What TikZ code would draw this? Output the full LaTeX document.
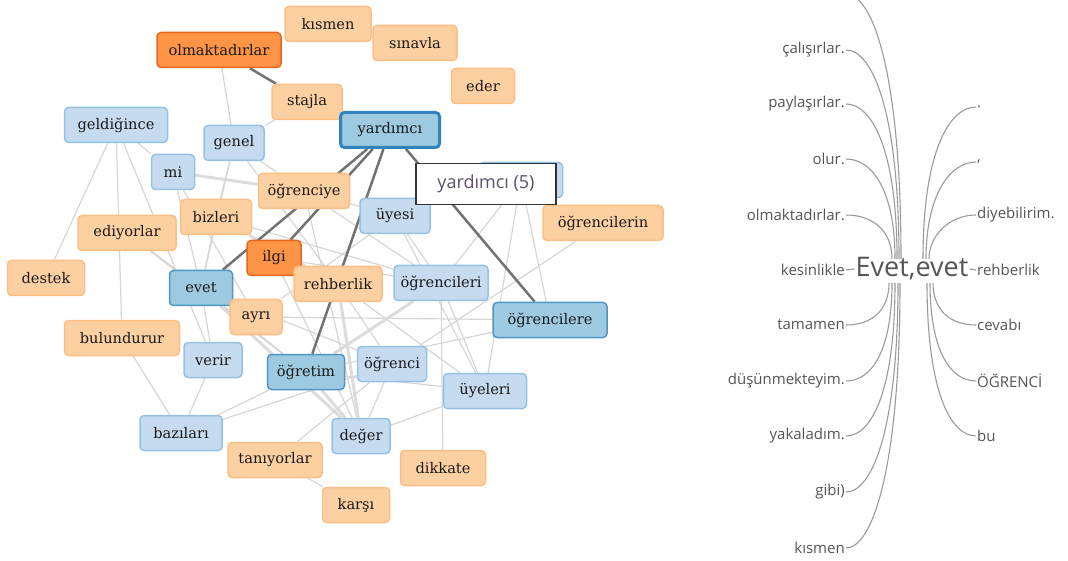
\documentclass[tikz,border=0pt]{standalone}
\usepackage{fontspec}
\usepackage{tikz}
\usetikzlibrary{backgrounds}

\newfontfamily\netfont{DejaVu Serif}
\newfontfamily\treefont{Open Sans}

\definecolor{lorange}{HTML}{FDD0A2}
\definecolor{lorangeline}{HTML}{FDBE85}
\definecolor{dorange}{HTML}{FD9446}
\definecolor{dorangeline}{HTML}{E6661E}
\definecolor{lblue}{HTML}{C6DBEF}
\definecolor{lblueline}{HTML}{93C2E4}
\definecolor{mblue}{HTML}{9ECAE1}
\definecolor{mblueline}{HTML}{4E96C8}
\definecolor{hubline}{HTML}{3182BD}
\definecolor{tiecol}{HTML}{D6D6D6}
\definecolor{strongcol}{HTML}{727272}
\definecolor{treecol}{HTML}{9A9A9A}
\definecolor{treetext}{HTML}{555555}
\definecolor{tipcol}{HTML}{5E4F6A}

\tikzset{
  word/.style={rounded corners=4pt, line width=1.5pt, minimum height=35pt,
    inner xsep=2pt, text=black!90, font=\netfont\fontsize{14.6}{16}\selectfont},
  lo/.style={word, fill=lorange, draw=lorangeline},
  do/.style={word, fill=dorange, draw=dorangeline},
  lb/.style={word, fill=lblue, draw=lblueline},
  mb/.style={word, fill=mblue, draw=mblueline},
  hub/.style={word, fill=mblue, draw=hubline, line width=3pt},
  tie/.style={draw=tiecol, line width=1.2pt},
  wide tie/.style={draw=tiecol!85, line width=3pt},
  strong/.style={draw=strongcol, line width=2.5pt},
  tip/.style={draw=black!80, line width=1.5pt, fill=white, minimum width=140pt,
    minimum height=41pt, text=tipcol, font=\treefont\fontsize{18}{20}\selectfont},
  leaf/.style={inner sep=1pt, text=treetext, font=\treefont\fontsize{15}{17}\selectfont},
  branch/.style={draw=treecol, line width=1.1pt}
}

\begin{document}
\begin{tikzpicture}[x=1pt, y=-1pt]

  \useasboundingbox (0,0) rectangle (1068,561);

  % network of words
  \node[lo, minimum width=86pt] (kismen) at (328,24) {kısmen};
  \node[lo, minimum width=84pt] (sinavla) at (415,43) {sınavla};
  \node[do, minimum width=124pt] (olmak) at (219,50) {olmaktadırlar};
  \node[lo, minimum width=63pt] (eder) at (483,86) {eder};
  \node[lo, minimum width=70pt] (stajla) at (307,102) {stajla};
  \node[lb, minimum width=103pt] (geldigince) at (116,125) {geldiğince};
  \node[hub, minimum width=99pt] (yardimci) at (390,130) {yardımcı};
  \node[lb, minimum width=60pt] (genel) at (234,143) {genel};
  \node[lb, minimum width=43pt] (mi) at (173,172) {mi};
  \node[lb, minimum width=83pt] (gizli) at (521,180) {};
  \node[lo, minimum width=91pt] (ogrenciye) at (304,191) {öğrenciye};
  \node[lo, minimum width=71pt] (bizleri) at (216,217) {bizleri};
  \node[lb, minimum width=70pt] (uyesi) at (395,216) {üyesi};
  \node[lo, minimum width=120pt] (ogrencilerin) at (603,223) {öğrencilerin};
  \node[lo, minimum width=98pt] (ediyorlar) at (127,233) {ediyorlar};
  \node[do, minimum width=54pt] (ilgi) at (274,258) {ilgi};
  \node[lo, minimum width=77pt] (destek) at (46,278) {destek};
  \node[mb, minimum width=63pt] (evet) at (201,288) {evet};
  \node[lo, minimum width=88pt] (rehberlik) at (338,284) {rehberlik};
  \node[lb, minimum width=94pt] (ogrencileri) at (441,283) {öğrencileri};
  \node[lo, minimum width=52pt] (ayri) at (256,317) {ayrı};
  \node[mb, minimum width=114pt] (ogrencilere) at (550,320) {öğrencilere};
  \node[lo, minimum width=115pt] (bulundurur) at (122,338) {bulundurur};
  \node[lb, minimum width=58pt] (verir) at (213,360) {verir};
  \node[mb, minimum width=77pt] (ogretim) at (306,372) {öğretim};
  \node[lb, minimum width=69pt] (ogrenci) at (392,364) {öğrenci};
  \node[lb, minimum width=83pt] (uyeleri) at (485,391) {üyeleri};
  \node[lb, minimum width=82pt] (bazilari) at (181,433) {bazıları};
  \node[lb, minimum width=58pt] (deger) at (361,436) {değer};
  \node[lo, minimum width=94pt] (taniyorlar) at (275,460) {tanıyorlar};
  \node[lo, minimum width=85pt] (dikkate) at (443,468) {dikkate};
  \node[lo, minimum width=67pt] (karsi) at (356,505) {karşı};

  \begin{scope}[on background layer]
    \draw[tie] (geldigince) -- (destek);
    \draw[tie] (geldigince) -- (bulundurur);
    \draw[tie] (geldigince) -- (verir);
    \draw[tie] (geldigince) -- (mi);
    \draw[tie] (olmak) -- (genel);
    \draw[tie] (stajla) -- (genel);
    \draw[wide tie] (mi) -- (ogrenciye);
    \draw[tie] (mi) -- (evet);
    \draw[tie] (mi) -- (ayri);
    \draw[tie] (genel) -- (bizleri);
    \draw[tie] (genel) -- (evet);
    \draw[tie] (genel) -- (rehberlik);
    \draw[tie] (genel) -- (ogrenciye);
    \draw[tie] (bizleri) -- (evet);
    \draw[tie] (bizleri) -- (ogrencileri);
    \draw[wide tie] (bizleri) -- (rehberlik);
    \draw[tie] (ediyorlar) -- (evet);
    \draw[tie] (ediyorlar) -- (ogretim);
    \draw[tie] (bulundurur) -- (bazilari);
    \draw[tie] (verir) -- (bazilari);
    \draw[tie] (verir) -- (evet);
    \draw[tie] (evet) -- (ayri);
    \draw[tie] (evet) -- (ogretim);
    \draw[wide tie] (evet) -- (deger);
    \draw[tie] (evet) -- (ogrenci);
    \draw[tie] (ilgi) -- (rehberlik);
    \draw[tie] (ilgi) -- (ogrencileri);
    \draw[tie] (ilgi) -- (deger);
    \draw[tie] (ogrenciye) -- (uyesi);
    \draw[tie] (ogrenciye) -- (ogrencileri);
    \draw[tie] (ogrenciye) -- (deger);
    \draw[tie] (uyesi) -- (ogrencileri);
    \draw[tie] (uyesi) -- (ayri);
    \draw[tie] (uyesi) -- (uyeleri);
    \draw[tie] (gizli) -- (ogrencileri);
    \draw[tie] (gizli) -- (uyeleri);
    \draw[tie] (gizli) -- (ogrencilere);
    \draw[tie] (ogrencilerin) -- (ogrenci);
    \draw[tie] (ogrencileri) -- (uyeleri);
    \draw[wide tie] (ogrencileri) -- (ogretim);
    \draw[tie] (ogrencileri) -- (dikkate);
    \draw[tie] (ogrencilere) -- (ayri);
    \draw[tie] (ogrencilere) -- (ogretim);
    \draw[wide tie] (rehberlik) -- (deger);
    \draw[tie] (rehberlik) -- (ogrenci);
    \draw[tie] (rehberlik) -- (uyeleri);
    \draw[wide tie] (ogretim) -- (deger);
    \draw[tie] (ogretim) -- (uyeleri);
    \draw[tie] (bazilari) -- (ogrenci);
    \draw[tie] (bazilari) -- (ogretim);
    \draw[tie] (ogrenci) -- (deger);
    \draw[tie] (ogrenci) -- (taniyorlar);
    \draw[tie] (deger) -- (uyeleri);
    \draw[tie] (taniyorlar) -- (karsi);
    % links of yardimci
    \draw[strong] (olmak) -- (stajla);
    \draw[strong] (stajla) -- (yardimci);
    \draw[strong] (yardimci) -- (evet);
    \draw[strong] (yardimci) -- (ilgi);
    \draw[strong] (yardimci) -- (ogretim);
    \draw[strong] (yardimci) -- (ogrencilere);
  \end{scope}

  \node[tip] (ipucu) at (486,184) {yardımcı (5)};

  % word tree
  \node[inner sep=1pt, text=treetext, font=\treefont\fontsize{27}{30}\selectfont]
    (kok) at (912,269) {Evet,evet};

  \coordinate (ust) at (846,-6);
  \node[leaf, anchor=east] (calisirlar) at (846,50) {çalışırlar.};
  \node[leaf, anchor=east] (paylasirlar) at (846,104) {paylaşırlar.};
  \node[leaf, anchor=east] (olur) at (846,159) {olur.};
  \node[leaf, anchor=east] (olmaktadirlar) at (846,215) {olmaktadırlar.};
  \node[leaf, anchor=east] (kesinlikle) at (846,270) {kesinlikle};
  \node[leaf, anchor=east] (tamamen) at (846,325) {tamamen};
  \node[leaf, anchor=east] (dusunmekteyim) at (846,381) {düşünmekteyim.};
  \node[leaf, anchor=east] (yakaladim) at (846,436) {yakaladım.};
  \node[leaf, anchor=east] (gibi) at (846,492) {gibi)};
  \node[leaf, anchor=east] (kismen2) at (846,548) {kısmen};

  \node[leaf, anchor=west] (nokta) at (976,107) {.};
  \node[leaf, anchor=west] (virgul) at (976,162) {,};
  \node[leaf, anchor=west] (diyebilirim) at (976,215) {diyebilirim.};
  \node[leaf, anchor=west] (rehberlik2) at (976,270) {rehberlik};
  \node[leaf, anchor=west] (cevabi) at (976,325) {cevabı};
  \node[leaf, anchor=west] (ogrenci2) at (976,381) {ÖĞRENCİ};
  \node[leaf, anchor=west] (bu) at (976,436) {bu};

  \draw[branch] (ust) .. controls (872,-6) and (901,70) .. (901,259);
  \draw[branch] (calisirlar.east) .. controls (872,50) and (899,110) .. (899,259);
  \draw[branch] (paylasirlar.east) .. controls (872,104) and (897,150) .. (897,259);
  \draw[branch] (olur.east) .. controls (872,159) and (895,190) .. (895,259);
  \draw[branch] (olmaktadirlar.east) .. controls (872,215) and (892,230) .. (892,259);
  \draw[branch] (kesinlikle.east) -- (kok.west);

  \draw[branch] (923,259) .. controls (923,150) and (950,107) .. (nokta.west);
  \draw[branch] (926,259) .. controls (926,195) and (950,162) .. (virgul.west);
  \draw[branch] (929,259) .. controls (929,235) and (950,215) .. (diyebilirim.west);
  \draw[branch] (kok.east) -- (rehberlik2.west);

  \draw[branch] (889,283) .. controls (889,310) and (872,325) .. (tamamen.east);
  \draw[branch] (892,283) .. controls (892,350) and (872,381) .. (dusunmekteyim.east);
  \draw[branch] (895,283) .. controls (895,390) and (872,436) .. (yakaladim.east);
  \draw[branch] (898,283) .. controls (898,430) and (872,492) .. (gibi.east);
  \draw[branch] (900,283) .. controls (900,470) and (872,548) .. (kismen2.east);

  \draw[branch] (933,283) .. controls (933,310) and (950,325) .. (cevabi.west);
  \draw[branch] (930,283) .. controls (930,350) and (950,381) .. (ogrenci2.west);
  \draw[branch] (927,283) .. controls (927,390) and (950,436) .. (bu.west);

\end{tikzpicture}
\end{document}
